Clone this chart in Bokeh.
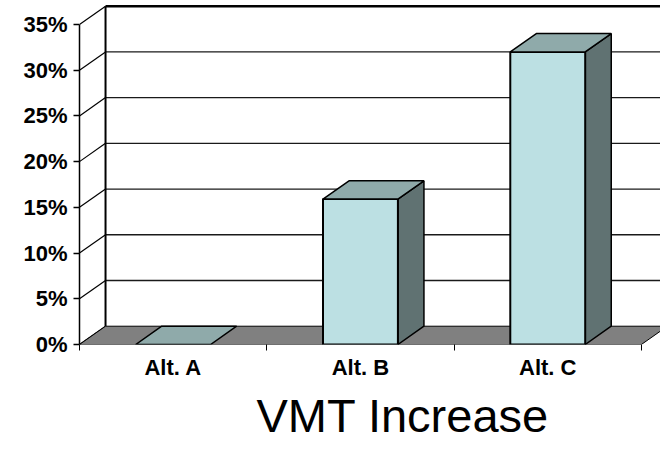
from bokeh.plotting import figure
from bokeh.models import Range1d, FixedTicker, PrintfTickFormatter, Title, ColumnDataSource
from bokeh.embed import file_html
from bokeh.resources import INLINE

# ---- data ----
categories = ["Alt. A", "Alt. B", "Alt. C"]
vmt_increase = [0.0, 15.9, 32.0]          # percent
y_ticks = [0, 5, 10, 15, 20, 25, 30, 35]  # percent
chart_title = "VMT Increase"

# ---- style (3D look) ----
DX = 0.139      # depth offset in category units
DY = 2.0        # depth offset in percent units
BAR_W = 0.4
FRONT = "#BCE0E3"
TOP = "#8FAAAA"
SIDE = "#607272"
FLOOR = "#808080"
FONT = "Liberation Sans"

n = len(categories)
centers = [i + 0.5 for i in range(n)]
ymax = y_ticks[-1]
x_end = 3.102

p = figure(width=660, height=465, output_backend="svg", toolbar_location=None,
           x_range=Range1d(0, x_end), y_range=Range1d(0, 37.62),
           min_border_left=79, min_border_right=0, min_border_top=0,
           min_border_bottom=121)
p.outline_line_color = None
p.grid.visible = False
p.background_fill_color = "white"
p.border_fill_color = "white"

# back wall gridlines
gl = y_ticks[1:-1]
p.segment(x0=[DX] * len(gl), y0=[v + DY for v in gl], x1=[x_end + 1] * len(gl),
          y1=[v + DY for v in gl], line_color="#1a1a1a", line_width=1.3)
# back wall top edge
p.segment(x0=[DX], y0=[ymax + DY], x1=[x_end + 1], y1=[ymax + DY],
          line_color="black", line_width=2.5)
# back wall left edge
p.segment(x0=[DX], y0=[DY], x1=[DX], y1=[ymax + DY], line_color="black", line_width=2)
# side wall diagonals
p.segment(x0=[0] * len(y_ticks), y0=y_ticks, x1=[DX] * len(y_ticks),
          y1=[v + DY for v in y_ticks], line_color="black", line_width=1.2)

# floor
p.patch(x=[0, n, n + DX, DX], y=[0, 0, DY, DY], fill_color=FLOOR,
        line_color="black", line_width=1)

# bars
side_xs, side_ys, top_xs, top_ys = [], [], [], []
fl, fr, fb, ft = [], [], [], []
for i, v in enumerate(vmt_increase):
    l = centers[i] - BAR_W / 2
    r = centers[i] + BAR_W / 2
    if v > 0:
        side_xs.append([r, r + DX, r + DX, r])
        side_ys.append([0, DY, v + DY, v])
        fl.append(l); fr.append(r); fb.append(0); ft.append(v)
    top_xs.append([l, r, r + DX, l + DX])
    top_ys.append([v, v, v + DY, v + DY])

p.patches(xs=side_xs, ys=side_ys, fill_color=SIDE, line_color="black", line_width=1.5)
p.quad(source=ColumnDataSource(dict(left=fl, right=fr, bottom=fb, top=ft)),
       left="left", right="right", bottom="bottom", top="top",
       fill_color=FRONT, line_color="black", line_width=2)
p.patches(xs=top_xs, ys=top_ys, fill_color=TOP, line_color="black", line_width=1.5)

# y axis
ya = p.yaxis[0]
ya.ticker = FixedTicker(ticks=y_ticks)
ya.formatter = PrintfTickFormatter(format="%d%%")
ya.bounds = (0, ymax)
ya.major_tick_out = 6
ya.major_tick_in = 0
ya.minor_tick_line_color = None
ya.axis_line_width = 1.5
ya.major_tick_line_width = 1.5
ya.major_label_standoff = 6
ya.major_label_text_font = FONT
ya.major_label_text_font_style = "bold"
ya.major_label_text_font_size = "22px"
ya.major_label_text_color = "black"

# x axis
xa = p.xaxis[0]
xa.ticker = FixedTicker(ticks=centers, minor_ticks=list(range(n + 1)))
xa.major_label_overrides = {c: lab for c, lab in zip(centers, categories)}
xa.bounds = (0, n)
xa.major_tick_out = 0
xa.major_tick_in = 0
xa.major_tick_line_color = None
xa.minor_tick_out = 6
xa.minor_tick_in = 0
xa.minor_tick_line_width = 1
xa.axis_line_color = None
xa.major_label_standoff = 4
xa.major_label_text_font = FONT
xa.major_label_text_font_style = "bold"
xa.major_label_text_font_size = "22px"
xa.major_label_text_color = "black"

t = Title(text=chart_title, text_font=FONT, text_font_size="47px",
          text_font_style="normal", text_color="black", align="left",
          offset=177, standoff=9)
p.add_layout(t, "below")

open("out.html", "w").write(file_html(p, INLINE))
